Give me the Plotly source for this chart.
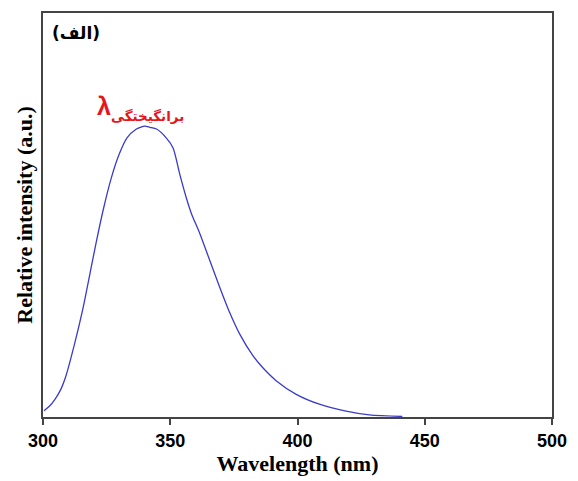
import plotly.graph_objects as go

wavelength = [300.4, 302.5, 304.7, 307.0, 309.0, 312.5, 315.6, 318.2, 320.8, 323.6,
              326.9, 330.0, 333.0, 336.7, 338.5, 340.0, 342.0, 344.6, 348.5, 351.1,
              353.7, 356.3, 358.3, 361.6, 365.5, 369.4, 373.3, 377.3, 382.4, 386.3,
              391.6, 399.5, 408.6, 419.1, 428.2, 441.2]
intensity = [0.0215, 0.037, 0.061, 0.095, 0.141, 0.255, 0.369, 0.482, 0.596, 0.710,
             0.824, 0.905, 0.960, 0.990, 0.997, 1.0, 0.996, 0.990, 0.959, 0.925,
             0.836, 0.754, 0.700, 0.631, 0.539, 0.447, 0.360, 0.285, 0.212, 0.170,
             0.125, 0.078, 0.044, 0.020, 0.007, 0.002]
x_ticks = [300, 350, 400, 450, 500]

fig = go.Figure()
fig.add_trace(go.Scatter(x=wavelength, y=intensity, mode="lines",
                         line=dict(color="#3a3acc", width=1.3, shape="spline", smoothing=0.8),
                         showlegend=False, hoverinfo="skip"))

axis_common = dict(showline=True, linecolor="#444444", linewidth=2, mirror=True,
                   showgrid=False, zeroline=False)
fig.update_xaxes(range=[300, 500], tickvals=x_ticks, ticks="outside", ticklen=6,
                 tickwidth=2, tickcolor="#444444",
                 tickfont=dict(family="Liberation Sans", size=18, color="black", weight="bold"),
                 title=dict(text="Wavelength (nm)", standoff=4,
                            font=dict(family="Liberation Serif", size=22, color="black", weight="bold")),
                 **axis_common)
fig.update_yaxes(range=[0, 1.389], showticklabels=False, ticks="",
                 title=dict(text="Relative intensity (a.u.)", standoff=2,
                            font=dict(family="Liberation Serif", size=22, color="black", weight="bold")),
                 **axis_common)

fig.add_annotation(xref="paper", yref="paper", x=0.0647, y=0.951, text="<b>(الف)</b>",
                   xanchor="center", yanchor="middle", showarrow=False,
                   font=dict(family="DejaVu Sans", size=17, color="black"))
fig.add_annotation(xref="paper", yref="paper", x=0.1196, y=0.771, text="<b>λ</b>",
                   xanchor="center", yanchor="middle", showarrow=False,
                   font=dict(family="Liberation Sans", size=25, color="#e8141c"))
fig.add_annotation(xref="paper", yref="paper", x=0.205, y=0.744, text="<b>برانگیختگی</b>",
                   xanchor="center", yanchor="middle", showarrow=False,
                   font=dict(family="DejaVu Sans", size=13.5, color="#e8141c"))

fig.update_layout(width=578, height=481, margin=dict(l=43, r=25, t=11, b=63),
                  plot_bgcolor="white", paper_bgcolor="white")
fig.write_html("out.html", config={"displayModeBar": False},
               post_script="document.body.style.margin='0';")
